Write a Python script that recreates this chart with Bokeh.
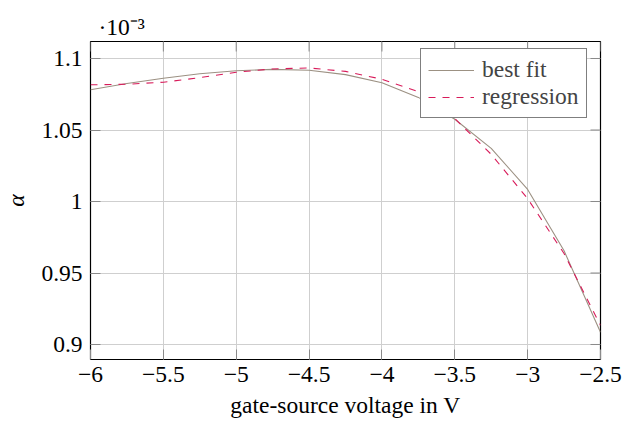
import math
from bokeh.plotting import figure
from bokeh.models import (Range1d, FixedTicker, CustomJSTickFormatter,
                          Legend, LegendItem, Title)
from bokeh.embed import file_html
from bokeh.resources import INLINE

# gate-source voltage in V
vgs = [-6.0, -5.75, -5.5, -5.25, -5.0, -4.75, -4.5, -4.25, -4.0,
       -3.75, -3.5, -3.25, -3.0, -2.75, -2.5]
# alpha in units of 1e-3
alpha_best_fit = [1.0782, 1.0825, 1.0862, 1.0893, 1.0914, 1.0924, 1.0918, 1.0887,
                  1.0830, 1.0728, 1.0575, 1.0372, 1.0084, 0.9655, 0.9086]
alpha_regression = [1.0816, 1.0820, 1.0834, 1.0866, 1.0904, 1.0927, 1.0934, 1.0910,
                    1.0855, 1.0768, 1.0580, 1.0330, 1.0020, 0.9636, 0.9134]

x_ticks = [-6, -5.5, -5, -4.5, -4, -3.5, -3, -2.5]
y_ticks = [0.9, 0.95, 1.0, 1.05, 1.1]

X_MIN, X_MAX = -6.0, -2.5
Y_MIN, Y_MAX = 0.88951, 1.11189

FONT = "Liberation Serif"
FS = "23.5px"
GRID = "#cfcfcf"
TICK = "#8a8a8a"

p = figure(width=623, height=425, output_backend="svg", toolbar_location=None,
           x_range=Range1d(X_MIN, X_MAX), y_range=Range1d(Y_MIN, Y_MAX),
           min_border_left=88, min_border_right=23, min_border_top=41,
           min_border_bottom=66)
p.background_fill_color = "white"
p.border_fill_color = "white"
p.outline_line_color = "black"
p.outline_line_width = 1.2

minus_fmt = CustomJSTickFormatter(code="return tick.toString().replace('-', '\\u2212')")

xa = p.xaxis[0]
ya = p.yaxis[0]
for ax, ticks in ((xa, x_ticks), (ya, y_ticks)):
    ax.ticker = FixedTicker(ticks=ticks)
    ax.formatter = minus_fmt
    ax.axis_line_color = None
    ax.major_tick_in = 10
    ax.major_tick_out = 0
    ax.major_tick_line_color = TICK
    ax.minor_tick_line_color = None
    ax.major_label_text_font = FONT
    ax.major_label_text_font_size = FS
    ax.major_label_text_color = "black"
    ax.axis_label_text_font = FONT
    ax.axis_label_text_font_size = FS
    ax.axis_label_text_font_style = "normal"
    ax.axis_label_text_color = "black"

xa.major_label_standoff = 7
xa.axis_label = "gate-source voltage in V"
xa.axis_label_standoff = 7
ya.major_label_standoff = 8
ya.axis_label = "α"
ya.axis_label_text_font_style = "italic"
ya.axis_label_standoff = 9

p.xgrid.ticker = FixedTicker(ticks=x_ticks)
p.ygrid.ticker = FixedTicker(ticks=y_ticks)
for g in (p.xgrid[0], p.ygrid[0]):
    g.grid_line_color = GRID
    g.grid_line_width = 1

# inward tick marks along the top and right edges of the frame
p.ray(x=x_ticks, y=[Y_MAX] * len(x_ticks), length=10, length_units="screen",
      angle=-math.pi / 2, line_color=TICK, line_width=1)
p.ray(x=[X_MAX] * len(y_ticks), y=y_ticks, length=10, length_units="screen",
      angle=math.pi, line_color=TICK, line_width=1)

r_fit = p.line(vgs, alpha_best_fit, line_color="#9c9183", line_width=1.1)
r_reg = p.line(vgs, alpha_regression, line_color="#d81b5a", line_width=1.1,
               line_dash="7 7")

legend = Legend(items=[LegendItem(label="best fit", renderers=[r_fit]),
                       LegendItem(label="regression", renderers=[r_reg])],
                location=(330, 241), margin=0, padding=7, spacing=0,
                glyph_width=46, glyph_height=24, label_height=24,
                label_width=96, label_standoff=8,
                label_text_font=FONT, label_text_font_size=FS,
                border_line_color="black", border_line_width=1.2,
                background_fill_color="white", background_fill_alpha=1.0)
p.add_layout(legend)

# scale factor of the alpha axis
p.add_layout(Title(text="·10⁻³", align="left", offset=8, standoff=3,
                   text_font=FONT, text_font_size=FS, text_font_style="normal",
                   text_color="black"), "above")

open("out.html", "w").write(file_html(p, INLINE))
